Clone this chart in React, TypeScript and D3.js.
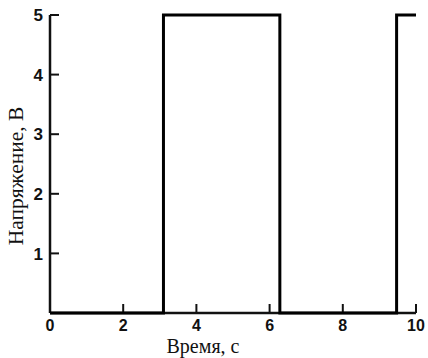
import React from "react";
import * as d3 from "d3";

// square-wave signal: time (s) and voltage (V)
const timePoints = [0, 3.1, 3.1, 6.28, 6.28, 9.47, 9.47, 10];
const voltPoints = [0, 0, 5, 5, 0, 0, 5, 5];
const xTicks = [0, 2, 4, 6, 8, 10];
const yTicks = [1, 2, 3, 4, 5];
const xTitle = "Время, с";
const yTitle = "Напряжение, В";

const W = 428;
const H = 358;
const margin = { top: 15, right: 12, bottom: 45, left: 50 };

const App = () => {
    const width = W - margin.left - margin.right;
    const height = H - margin.top - margin.bottom;

    const x = d3.scaleLinear().domain([0, 10]).range([0, width]);
    const y = d3.scaleLinear().domain([0, 5]).range([height, 0]);

    const line = d3.line<number>()
        .x((d, i) => x(timePoints[i]))
        .y(d => y(d));

    const tickFont = "'Liberation Sans', Arial, sans-serif";
    const titleFont = "'Liberation Serif', 'Times New Roman', serif";

    return (
        <svg width={W} height={H} style={{ position: "absolute", left: 0, top: 0, background: "white" }}>
            <g transform={`translate(${margin.left},${margin.top})`}>
                {/* axes */}
                <line x1={0} x2={0} y1={y(5)} y2={height} stroke="#111" strokeWidth={2.5} />
                <line x1={0} x2={width} y1={height} y2={height} stroke="#111" strokeWidth={2.5} />

                {yTicks.map(t => (
                    <g key={`y${t}`}>
                        <line x1={0} x2={9} y1={y(t)} y2={y(t)} stroke="#111" strokeWidth={2} />
                        <text x={-7} y={y(t)} dy="0.36em" textAnchor="end"
                            fontFamily={tickFont} fontWeight="bold" fontSize={17} fill="#111">{t}</text>
                    </g>
                ))}

                {xTicks.map(t => (
                    <g key={`x${t}`}>
                        {t !== 0 && <line x1={x(t)} x2={x(t)} y1={height} y2={height - 9} stroke="#111" strokeWidth={2} />}
                        <text x={x(t)} y={height + 18} textAnchor="middle"
                            fontFamily={tickFont} fontWeight="bold" fontSize={16} fill="#111">{t}</text>
                    </g>
                ))}

                <path d={line(voltPoints) || ""} fill="none" stroke="#000" strokeWidth={3} strokeLinejoin="miter" />

                <text x={width / 2 - 30} y={height + 40} textAnchor="middle"
                    fontFamily={titleFont} fontSize={20} fill="#111">{xTitle}</text>
                <text transform={`translate(${-27},${height / 2 + 12}) rotate(-90)`} textAnchor="middle"
                    fontFamily={titleFont} fontSize={21.5} fill="#111">{yTitle}</text>
            </g>
        </svg>
    );
};

export default App;
